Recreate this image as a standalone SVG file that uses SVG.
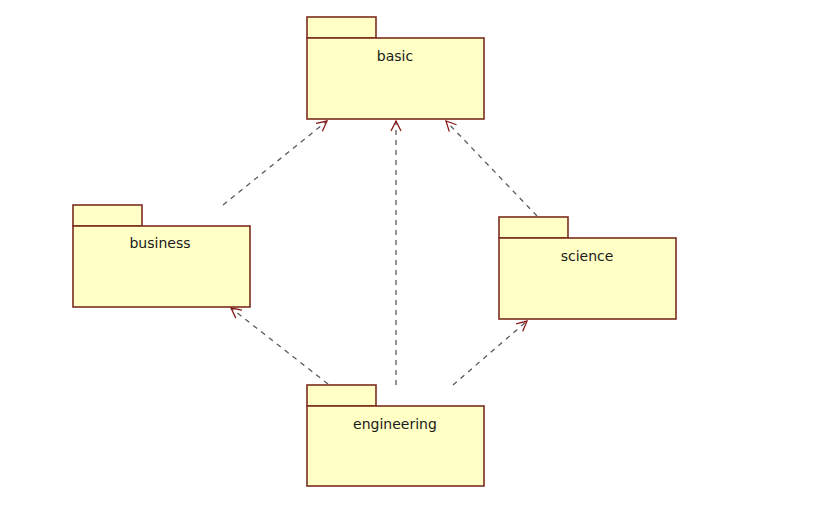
<svg xmlns="http://www.w3.org/2000/svg" width="821" height="509" viewBox="0 0 821 509">
<style>
.pk{fill:#FFFFC6;stroke:#7B2D1E;stroke-width:1.6}
.lb{font-family:"DejaVu Sans","Liberation Sans",sans-serif;font-size:14px;fill:#1a1a1a;text-anchor:middle}
.dep{stroke:#5a5a5a;stroke-width:1.3;stroke-dasharray:5,5;fill:none;marker-end:url(#ah)}
</style>
<defs>
<marker id="ah" viewBox="0 0 12 12" refX="11" refY="6" markerWidth="12" markerHeight="12" markerUnits="userSpaceOnUse" orient="auto">
<path d="M1,1 L11,6 L1,11" fill="none" stroke="#8B1A1A" stroke-width="1.3"/>
</marker>
</defs>
<rect width="821" height="509" fill="#fff"/>
<g id="connectors">
<line class="dep" x1="223" y1="205" x2="327" y2="121"/>
<line class="dep" x1="396" y1="385" x2="396" y2="121"/>
<line class="dep" x1="537" y1="216" x2="446" y2="121"/>
<line class="dep" x1="328" y1="384" x2="231" y2="308"/>
<line class="dep" x1="453" y1="385" x2="527" y2="321"/>
</g>
<g id="basic">
<rect class="pk" x="307" y="17" width="69" height="21"/>
<rect class="pk" x="307" y="38" width="177" height="81"/>
<text class="lb" x="395" y="61">basic</text>
</g>
<g id="business">
<rect class="pk" x="73" y="205" width="69" height="21"/>
<rect class="pk" x="73" y="226" width="177" height="81"/>
<text class="lb" x="160" y="248">business</text>
</g>
<g id="science">
<rect class="pk" x="499" y="217" width="69" height="21"/>
<rect class="pk" x="499" y="238" width="177" height="81"/>
<text class="lb" x="587" y="261">science</text>
</g>
<g id="engineering">
<rect class="pk" x="307" y="385" width="69" height="21"/>
<rect class="pk" x="307" y="406" width="177" height="80"/>
<text class="lb" x="395" y="429">engineering</text>
</g>
</svg>
